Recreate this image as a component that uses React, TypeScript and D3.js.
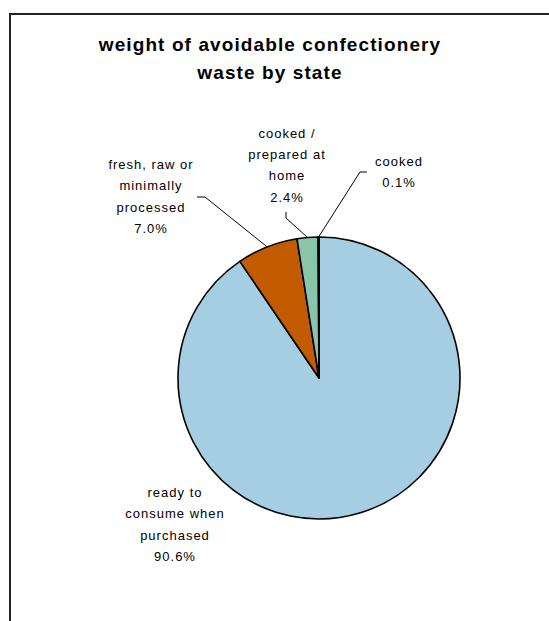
import React from 'react';
import * as d3 from 'd3';

const categories = ['ready to consume when purchased', 'fresh, raw or minimally processed', 'cooked / prepared at home', 'cooked'];
const values = [90.6, 7.0, 2.4, 0.1];
const labelLines = [
  ['ready to', 'consume when', 'purchased'],
  ['fresh, raw or', 'minimally', 'processed'],
  ['cooked /', 'prepared at', 'home'],
  ['cooked'],
];
const colors = ['#A6CEE3', '#C25B00', '#89C5A9', '#4F81BD'];
const titleLines = ['weight of avoidable confectionery', 'waste by state'];

// layout (not data)
const W = 549, H = 621;
const cx = 319, cy = 378, R = 141;
const lineH = 21.4;
const labelLayout = [
  { x: 175, y: 497, leader: null as null | number[][] },
  { x: 151, y: 169, leader: [[197, 197], [205, 197]] },
  { x: 287, y: 137.5, leader: [[286, 212], [286, 218]] },
  { x: 399, y: 166, leader: [[367, 172], [360, 172]] },
];

export default function App() {
  const data = categories.map((c, i) => ({ c, v: values[i], i }));
  const pie = d3.pie<any>().value(d => d.v).sort(null).startAngle(0).endAngle(2 * Math.PI);
  const arcs = pie(data);
  const arc = d3.arc<any>().innerRadius(0).outerRadius(R);
  const font = '"Liberation Sans", Arial, sans-serif';
  return (
    <svg width={W} height={H} style={{ position: 'absolute', left: 0, top: 0, background: '#fff' }}>
      <rect x={0} y={0} width={W} height={H} fill="#fff" />
      <rect x={10} y={14} width={700} height={800} fill="#fff" stroke="#222" strokeWidth={2} />
      {titleLines.map((t, i) => (
        <text key={t} x={270} y={51 + i * 28} textAnchor="middle" fontFamily={font} fontWeight="bold" fontSize={19} letterSpacing={1.1} fill="#000">{t}</text>
      ))}
      <g transform={`translate(${cx},${cy})`}>
        {arcs.map((a, i) => (
          <path key={i} d={arc(a) || ''} fill={colors[i]} stroke="#000" strokeWidth={1.6} strokeLinejoin="round" />
        ))}
      </g>
      {arcs.map((a, i) => {
        const L = labelLayout[i];
        const mid = (a.startAngle + a.endAngle) / 2;
        const px = cx + R * Math.sin(mid);
        const py = cy - R * Math.cos(mid);
        const pct = d3.format('.1f')(values[i]) + '%';
        const lines = [...labelLines[i], pct];
        return (
          <g key={'l' + i}>
            {L.leader && (
              <polyline points={[...L.leader, [px, py]].map(p => p.join(',')).join(' ')} fill="none" stroke="#000" strokeWidth={1} />
            )}
            {lines.map((t, j) => (
              <text key={j} x={L.x} y={L.y + j * lineH} textAnchor="middle" fontFamily={font} fontSize={13} letterSpacing={1} fill="#000">{t}</text>
            ))}
          </g>
        );
      })}
    </svg>
  );
}
